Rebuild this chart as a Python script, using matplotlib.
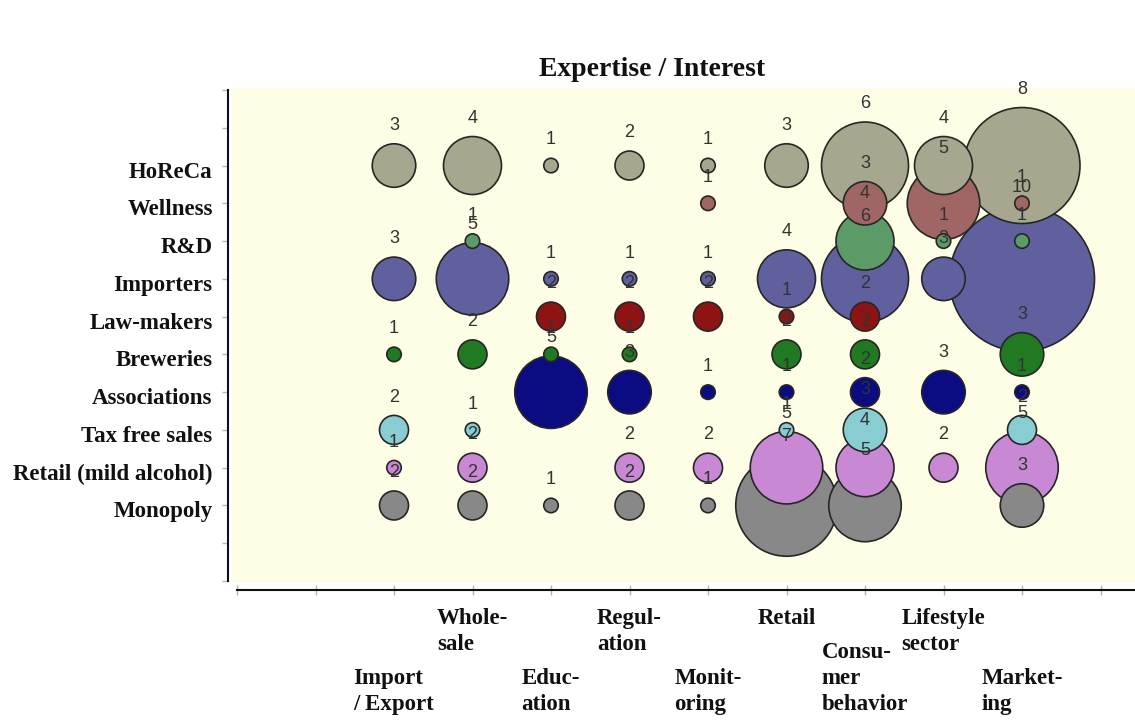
import matplotlib
matplotlib.use("Agg")
import matplotlib.pyplot as plt
import matplotlib.transforms as mtransforms

# ---------------- data ----------------
columns = ["Import\n/ Export", "Whole-\nsale", "Educ-\nation", "Regul-\nation",
           "Monit-\noring", "Retail", "Consu-\nmer\nbehavior", "Lifestyle\nsector",
           "Market-\ning"]
rows = ["HoReCa", "Wellness", "R&D", "Importers", "Law-makers", "Breweries",
        "Associations", "Tax free sales", "Retail (mild alcohol)", "Monopoly"]

horeca       = [3, 4, 1, 2, 1, 3, 6, 4, 8]
wellness     = [0, 0, 0, 0, 1, 0, 3, 5, 1]
rnd          = [0, 1, 0, 0, 0, 0, 4, 1, 1]
importers    = [3, 5, 1, 1, 1, 4, 6, 3, 10]
lawmakers    = [0, 0, 2, 2, 2, 1, 2, 0, 0]
breweries    = [1, 2, 1, 1, 0, 2, 2, 0, 3]
associations = [0, 0, 5, 3, 1, 1, 2, 3, 1]
taxfree      = [2, 1, 0, 0, 0, 1, 3, 0, 2]
retail_mild  = [1, 2, 0, 2, 2, 5, 4, 2, 5]
monopoly     = [2, 2, 1, 2, 1, 7, 5, 0, 3]

series = [horeca, wellness, rnd, importers, lawmakers, breweries,
          associations, taxfree, retail_mild, monopoly]
colors = ["#A7A68E", "#A06666", "#5C9B68", "#5F609D", "#8E1414", "#217A21",
          "#0B0B82", "#88CDD2", "#C888D4", "#888888"]

# ---------------- figure ----------------
W, H, DPI = 1135, 722, 100
fig = plt.figure(figsize=(W / DPI, H / DPI), dpi=DPI)
fig.patch.set_facecolor("white")

ax_l, ax_r, ax_t, ax_b = 232, 1135, 88, 583
ax = fig.add_axes([ax_l / W, (H - ax_b) / H, (ax_r - ax_l) / W, (ax_b - ax_t) / H])
ax.set_facecolor("#FEFEE6")

x0_px, xstep = 237, 78.5
y0_px, ystep = 581, 37.77
ax.set_xlim((ax_l - x0_px) / xstep, (ax_r - x0_px) / xstep)
ax.set_ylim(-(ax_b - y0_px) / ystep, (y0_px - ax_t) / ystep)

n_rows = len(rows)
px_per_unit = 7.25          # bubble radius in pixels per unit of value
pt = 72.0 / DPI

pts = []
for i, vals in enumerate(series):
    yv = n_rows + 1 - i
    for j, v in enumerate(vals):
        if v > 0:
            pts.append((2 + j, yv, v, colors[i]))

# larger bubbles behind smaller ones
pts.sort(key=lambda p: -p[2])
xs = [p[0] for p in pts]
ys = [p[1] for p in pts]
ss = [(2 * px_per_unit * p[2] * pt) ** 2 for p in pts]
cs = [p[3] for p in pts]
ax.scatter(xs, ys, s=ss, c=cs, edgecolors="#262626", linewidths=1.2, zorder=3)

for (x, y, v, c) in pts:
    r_pt = px_per_unit * v * pt
    ax.annotate(str(v), (x, y), xytext=(0, r_pt + 10.0), textcoords="offset points",
                ha="center", va="baseline", fontsize=13, color="#333333",
                family="Liberation Sans", zorder=10, annotation_clip=False)

# ---------------- axes styling ----------------
for s in ["top", "right"]:
    ax.spines[s].set_visible(False)
ax.spines["left"].set_position(("outward", 3))
ax.spines["bottom"].set_position(("outward", 5))
ax.spines["left"].set_bounds(0, 13)
ax.spines["bottom"].set_bounds(0, ax.get_xlim()[1])
for s in ["left", "bottom"]:
    ax.spines[s].set_linewidth(1.5)
    ax.spines[s].set_color("#111111")

ax.set_yticks(range(14))
ylabels = [""] * 14
for i, name in enumerate(rows):
    ylabels[n_rows + 1 - i] = name
ax.set_yticklabels(ylabels, family="Liberation Serif", fontweight="bold",
                   fontsize=16.5, color="#111111")
ax.tick_params(axis="y", direction="out", length=4, width=1, color="#B5B5B5", pad=7)
shift = mtransforms.ScaledTranslation(0, -4 / DPI, fig.dpi_scale_trans)
for lab in ax.get_yticklabels():
    lab.set_transform(lab.get_transform() + shift)

ax.set_xticks(range(12))
ax.set_xticklabels([])
ax.tick_params(axis="x", direction="inout", length=7, width=1, color="#B5B5B5")

xtr = ax.get_xaxis_transform()
for j, lab in enumerate(columns):
    if j % 2 == 1:
        ax.text(2 + j, -0.050, lab, transform=xtr, ha="center", va="top",
                multialignment="left", family="Liberation Serif", fontweight="bold",
                fontsize=16.5, linespacing=1.3, color="#111111")
    else:
        ax.text(2 + j, -0.266, lab, transform=xtr, ha="center", va="bottom",
                multialignment="left", family="Liberation Serif", fontweight="bold",
                fontsize=16.5, linespacing=1.3, color="#111111")

fig.text(652 / W, (H - 70) / H, "Expertise / Interest", ha="center", va="center",
         family="Liberation Serif", fontweight="bold", fontsize=20, color="#111111")

fig.savefig("out.png", dpi=DPI)
